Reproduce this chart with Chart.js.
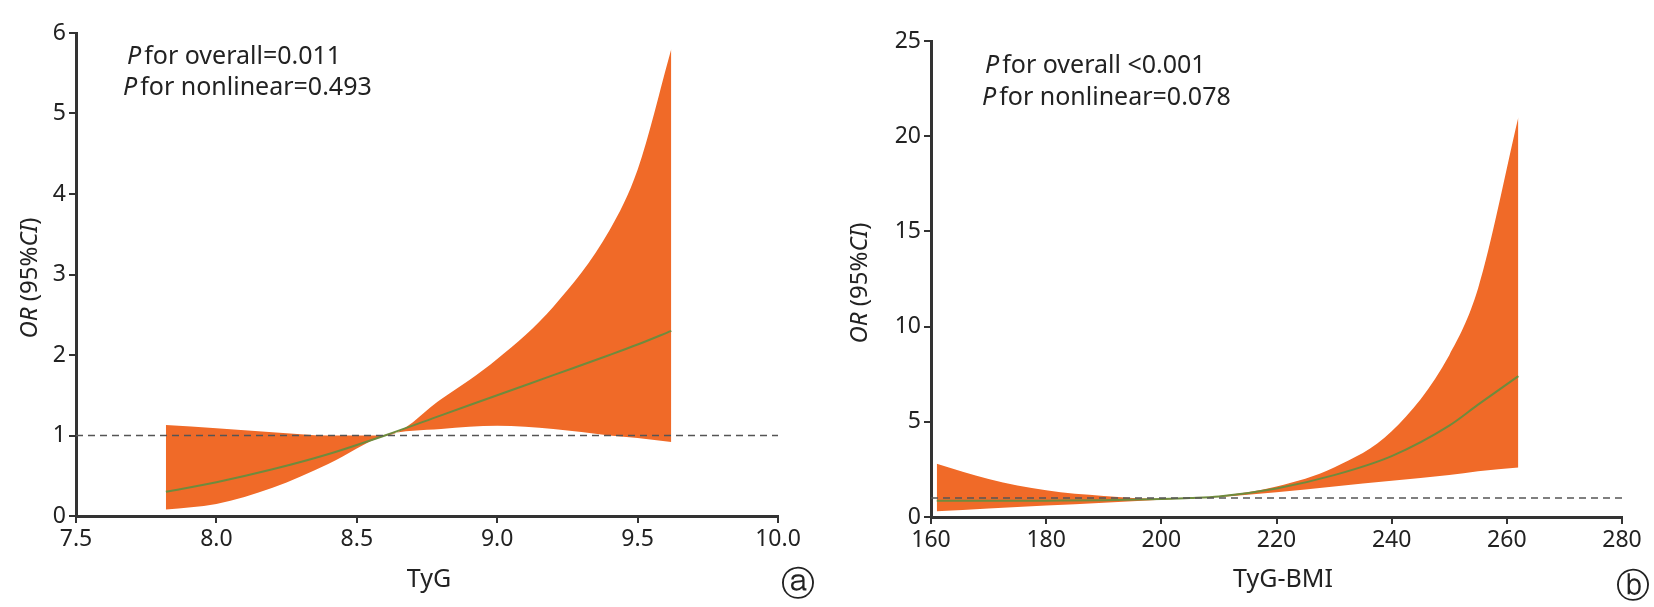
<!DOCTYPE html>
<html><head><meta charset="utf-8">
<script src="https://cdn.jsdelivr.net/npm/chart.js@4"></script>
<style>body{margin:0;background:#fff;width:1654px;height:607px;position:relative;overflow:hidden}
.p{position:absolute;top:0;height:607px}</style></head><body>
<div class="p" style="left:0;width:820px"><canvas id="a"></canvas></div>
<div class="p" style="left:840px;width:814px"><canvas id="b"></canvas></div>
<script>
const tygX=[7.82,8.0,8.2,8.4,8.6,8.8,9.0,9.2,9.4,9.5,9.62];
const tygUpper=[1.13,1.09,1.04,1.0,1.0,1.45,1.95,2.6,3.55,4.3,5.8];
const tygLower=[0.08,0.15,0.35,0.65,1.0,1.08,1.12,1.08,1.0,0.97,0.92];
const tygMid=[0.30,0.42,0.58,0.77,1.0,1.25,1.5,1.75,2.0,2.13,2.3];
const bmiX=[161,170,180,190,200,205,210,220,230,240,250,255,262];
const bmiUpper=[2.8,2.0,1.4,1.1,0.95,1.0,1.1,1.6,2.6,4.5,8.5,12,21];
const bmiLower=[0.3,0.45,0.6,0.75,0.9,1.0,1.05,1.3,1.6,1.9,2.2,2.4,2.6];
const bmiMid=[0.85,0.85,0.86,0.88,0.95,1.0,1.08,1.5,2.2,3.2,4.8,5.9,7.4];
const F='"Noto Sans", sans-serif';
function pts(x,y){return x.map((v,i)=>({x:v,y:y[i]}));}
function make(id,X,U,L,M,xs,ys,pad,yw,xh,txt){
  const ax={grid:{drawOnChartArea:false,drawTicks:true,tickLength:7,color:'#333',lineWidth:2},border:{color:'#333',width:3},ticks:{color:'#222',font:{family:F,size:23}}};
  new Chart(document.getElementById(id),{type:'scatter',data:{datasets:[
    {data:pts(X,U),order:3,showLine:true,borderWidth:0,pointRadius:0,backgroundColor:'#F06A28',fill:'+1',cubicInterpolationMode:'monotone'},
    {data:pts(X,L),order:3,showLine:true,borderWidth:0,pointRadius:0,backgroundColor:'#F06A28',fill:false,cubicInterpolationMode:'monotone'},
    {data:pts(X,M),order:1,showLine:true,borderWidth:2,borderColor:'#6E8B3D',pointRadius:0,fill:false,cubicInterpolationMode:'monotone'},
    {data:[{x:xs.min,y:1},{x:xs.max,y:1}],order:0,showLine:true,borderWidth:1.5,borderColor:'#555',borderDash:[7,5],pointRadius:0,fill:false}
  ]},options:{responsive:true,maintainAspectRatio:false,animation:false,layout:{padding:pad},
    plugins:{legend:{display:false},tooltip:{enabled:false}},
    scales:{x:Object.assign({},ax,{min:xs.min,max:xs.max,ticks:Object.assign({},ax.ticks,{stepSize:xs.step,callback:xs.cb}),afterFit:s=>{s.height=xh}}),
            y:Object.assign({},ax,{min:ys.min,max:ys.max,ticks:Object.assign({},ax.ticks,{stepSize:ys.step}),afterFit:s=>{s.width=yw}})}},
    plugins:[{id:'t',afterDraw(c){const g=c.ctx;g.save();g.fillStyle='#222';txt(g);g.restore();}}]});
}
function ptext(g,x,y,rest){g.font='italic 25px '+F;g.textBaseline='alphabetic';g.fillText('P',x,y);const w=g.measureText('P').width;g.font='25px '+F;g.fillText(rest,x+w+3,y);}
function ytitle(g,x,y){g.save();g.translate(x,y);g.rotate(-Math.PI/2);const parts=[['OR',1],[' (95%',0],['CI',1],[')',0]];let w=0;parts.forEach(p=>{g.font=(p[1]?'italic ':'')+'24px '+F;w+=g.measureText(p[0]).width});let cx=-w/2;g.textBaseline='middle';parts.forEach(p=>{g.font=(p[1]?'italic ':'')+'24px '+F;g.fillText(p[0],cx,0);cx+=g.measureText(p[0]).width});g.restore();}
make('a',tygX,tygUpper,tygLower,tygMid,{min:7.5,max:10,step:0.5,cb:v=>v.toFixed(1)},{min:0,max:6,step:1},{left:0,right:42,top:33,bottom:0},76,91,g=>{
  ptext(g,127,64,'for overall=0.011');ptext(g,123,95,'for nonlinear=0.493');
  ytitle(g,30,278);g.font='25px '+F;g.textAlign='center';g.textBaseline='middle';g.fillText('TyG',429,580);
  g.font='34px '+F;g.fillText('ⓐ',798,585);});
make('b',bmiX,bmiUpper,bmiLower,bmiMid,{min:160,max:280,step:20,cb:v=>v},{min:0,max:25,step:5},{left:0,right:32,top:41,bottom:0},91,90,g=>{
  ptext(g,145,73,'for overall <0.001');ptext(g,142,105,'for nonlinear=0.078');
  ytitle(g,20,283);g.font='25px '+F;g.textAlign='center';g.textBaseline='middle';g.fillText('TyG-BMI',443,580);
  g.font='34px '+F;g.fillText('ⓑ',793,587);});
</script></body></html>
